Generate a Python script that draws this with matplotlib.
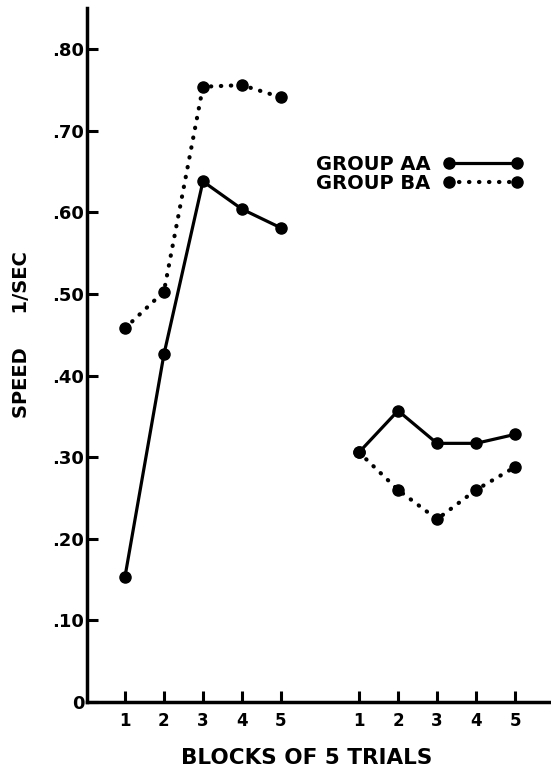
import matplotlib
matplotlib.use("Agg")
import matplotlib.pyplot as plt
import numpy as np
from matplotlib.lines import Line2D

# Data
block_labels = ["1", "2", "3", "4", "5", "1", "2", "3", "4", "5"]
x_first = [1, 2, 3, 4, 5]
x_second = [7, 8, 9, 10, 11]
aa_first = [0.153, 0.426, 0.638, 0.604, 0.581]
ba_first = [0.458, 0.503, 0.754, 0.756, 0.741]
aa_second = [0.306, 0.357, 0.317, 0.317, 0.328]
ba_second = [0.306, 0.260, 0.224, 0.260, 0.288]
y_ticks = [0, 0.10, 0.20, 0.30, 0.40, 0.50, 0.60, 0.70, 0.80]
y_ticklabels = ["0", ".10", ".20", ".30", ".40", ".50", ".60", ".70", ".80"]

plt.rcParams['font.family'] = ['DejaVu Sans']
fig = plt.figure(figsize=(5.51, 7.69), dpi=100)
ax = fig.add_axes([0.158, 0.0871, 0.842, 0.9025])

lw = 2.3
ms = 8
dot_style = dict(linestyle=(0, (0.1, 2.3)), dash_capstyle='round', lw=3.0)

for xs, ys in [(x_first, aa_first), (x_second, aa_second)]:
    ax.plot(xs, ys, color='black', lw=lw, marker='o', ms=ms)
for xs, ys in [(x_first, ba_first), (x_second, ba_second)]:
    ax.plot(xs, ys, color='black', marker='o', ms=ms, **dot_style)

ax.set_xlim(0.03, 11.92)
ax.set_ylim(0, 0.8505)

ax.set_xticks(x_first + x_second)
ax.set_xticklabels(block_labels, fontsize=12, fontweight='bold')
ax.set_yticks(y_ticks)
ax.set_yticklabels(y_ticklabels, fontsize=13, fontweight='bold')
ax.tick_params(axis='both', direction='in', length=8, width=2.2, pad=2)
ax.tick_params(axis='x', pad=7)

for s in ['top', 'right']:
    ax.spines[s].set_visible(False)
for s in ['left', 'bottom']:
    ax.spines[s].set_linewidth(2.5)

ax.set_ylabel("SPEED     1/SEC", fontsize=14, fontweight='bold')
ax.yaxis.set_label_coords(-0.12, 0.530)
ax.set_xlabel("BLOCKS OF 5 TRIALS", fontsize=15.5, fontweight='bold')
ax.xaxis.set_label_coords(0.474, -0.066)

handles = [Line2D([0], [0], color='black', lw=lw, marker='o', ms=ms),
           Line2D([0], [0], color='black', marker='o', ms=ms, **dot_style)]
leg = ax.legend(handles, ["GROUP AA", "GROUP BA"], loc='upper left',
                bbox_to_anchor=(0.455, 0.813), frameon=False, markerfirst=False,
                numpoints=2, handlelength=4.1, handletextpad=0.65,
                labelspacing=0.0, prop={'weight': 'bold', 'size': 14})

fig.savefig("out.png", dpi=100)
